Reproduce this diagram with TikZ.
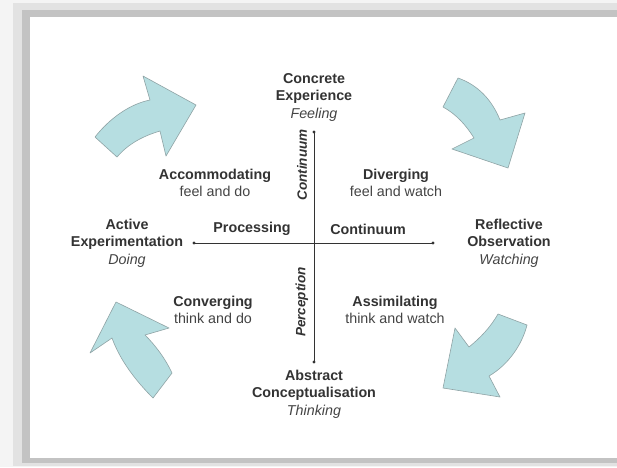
\documentclass[tikz,border=0pt]{standalone}
\usepackage{fontspec}
\setmainfont{Liberation Sans}
\definecolor{txt}{HTML}{333333}
\definecolor{subtxt}{HTML}{444444}
\definecolor{teal}{HTML}{B6DEE1}
\definecolor{tealedge}{HTML}{8FA3A5}
\definecolor{bgA}{HTML}{F4F4F4}
\definecolor{bgB}{HTML}{E2E2E2}
\definecolor{bgC}{HTML}{C3C3C3}
\begin{document}
\begin{tikzpicture}[x=1pt,y=-1pt,
  lbl/.style={font=\fontsize{14.3}{17.5}\selectfont\bfseries, text=txt, align=center, inner sep=0pt},
  vlbl/.style={font=\fontsize{13.5}{16}\selectfont\bfseries\itshape, text=txt, inner sep=0pt, rotate=90},
  axisline/.style={draw=txt, line width=0.8pt},
  blockarrow/.style={fill=teal, draw=tealedge, line width=0.6pt, line join=round}]
\useasboundingbox (0,0) rectangle (617,467);
% page frame and shadow
\fill[bgA] (0,0) rectangle (617,467);
\fill[bgB] (13,3) rectangle (617,466);
\fill[bgC] (22,10) rectangle (617,463);
\fill[white] (30,17) rectangle (617,458);

% block arrows
\draw[blockarrow] (95,137) .. controls (110,118) and (130,104) .. (150,100)
  -- (143,76) -- (196,105) -- (166,156) -- (160,131)
  .. controls (143,136) and (128,144) .. (117,157) -- cycle;
\draw[blockarrow] (458,78) .. controls (478,85) and (492,100) .. (500,120)
  -- (525,113) -- (508,168) -- (452,149) -- (474,138)
  .. controls (466,125) and (456,114) .. (443,107) -- cycle;
\draw[blockarrow] (527,325) .. controls (522,345) and (508,365) .. (489,376)
  -- (500,397) -- (443,388) -- (455,328) -- (469,347)
  .. controls (480,338) and (490,328) .. (498,314) -- cycle;
\draw[blockarrow] (153,398) .. controls (135,380) and (120,360) .. (112,338)
  -- (90,353) -- (116,302) -- (169,328) -- (145,335)
  .. controls (155,345) and (165,358) .. (172,373) -- cycle;

% axes
\coordinate (ytop) at (314,132);
\coordinate (ybot) at (314,362);
\coordinate (xl) at (194,243);
\coordinate (xr) at (433,243);
\draw[axisline] (ytop) -- (ybot);
\draw[axisline] (xl) -- (xr);
\foreach \p in {ytop,ybot,xl,xr} \fill[txt] (\p) circle (1.7);

% pole labels
\node[lbl] (ce) at (314,97) {Concrete\\Experience\\{\mdseries\itshape\color{subtxt} Feeling}};
\node[lbl] (ac) at (314,394) {Abstract\\Conceptualisation\\{\mdseries\itshape\color{subtxt} Thinking}};
\node[lbl] (ae) at (127,243) {Active\\Experimentation\\{\mdseries\itshape\color{subtxt} Doing}};
\node[lbl] (ro) at (509,243) {Reflective\\Observation\\{\mdseries\itshape\color{subtxt} Watching}};

% quadrant labels
\node[lbl] (acc) at (215,183) {Accommodating\\{\mdseries\color{subtxt} feel and do}};
\node[lbl] (div) at (396,183) {Diverging\\{\mdseries\color{subtxt} feel and watch}};
\node[lbl] (con) at (213,310) {Converging\\{\mdseries\color{subtxt} think and do}};
\node[lbl] (ass) at (395,310) {Assimilating\\{\mdseries\color{subtxt} think and watch}};

% axis labels
\node[lbl] (proc) at (252,229) {Processing};
\node[lbl] (cont1) at (368,229) {Continuum};
\node[vlbl] (cont2) at (302,165) {Continuum};
\node[vlbl] (perc) at (302,302) {Perception};
\end{tikzpicture}
\end{document}
